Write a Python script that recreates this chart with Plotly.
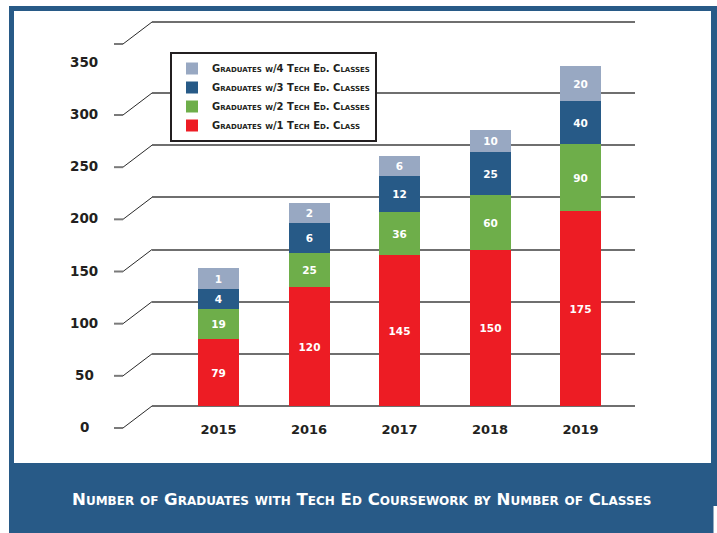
import plotly.graph_objects as go

# ---------------- data ----------------
years = [2015, 2016, 2017, 2018, 2019]
year_labels = ["2015", "2016", "2017", "2018", "2019"]

# printed segment values (labels in the chart)
grads_1_labels = [79, 120, 145, 150, 175]
grads_2_labels = [19, 25, 36, 60, 90]
grads_3_labels = [4, 6, 12, 25, 40]
grads_4_labels = [1, 2, 6, 10, 20]

# segment heights as drawn against the value axis
grads_1_drawn = [64, 114, 145, 150, 187]
grads_2_drawn = [29, 33, 41, 52, 64]
grads_3_drawn = [19, 28, 34, 41, 41]
grads_4_drawn = [20, 20, 20, 22, 34]

series_names = [
    "Graduates w/1 Tech Ed. Class",
    "Graduates w/2 Tech Ed. Classes",
    "Graduates w/3 Tech Ed. Classes",
    "Graduates w/4 Tech Ed. Classes",
]
y_tick_values = [0, 50, 100, 150, 200, 250, 300, 350]
y_tick_labels = ["0", "50", "100", "150", "200", "250", "300", "350"]
grid_values = [0, 50, 100, 150, 200, 250, 300]
title_text = "Number of Graduates with Tech Ed Coursework by Number of Classes"

# ---------------- styling ----------------
W, H = 717, 533
L, R, T, B = 152, 635, 22, 406
PX_PER_UNIT = 1.0433
Y_MAX = (B - T) / PX_PER_UNIT
FONT = "DejaVu Sans"
DARK = "#231f20"
NAVY = "#285a87"
colors = ["#ed1c24", "#6eae4a", "#275a87", "#98a8c2"]


def px(x):
    return (x - L) / (R - L)


def py(y):
    return (B - y) / (B - T)


fig = go.Figure()
drawn = [grads_1_drawn, grads_2_drawn, grads_3_drawn, grads_4_drawn]
labels = [grads_1_labels, grads_2_labels, grads_3_labels, grads_4_labels]
for name, h, lab, c in zip(series_names, drawn, labels, colors):
    fig.add_trace(go.Bar(
        x=years, y=h, name=name, marker=dict(color=c, line=dict(width=0)),
        text=[str(v) for v in lab], texttemplate="%{text}",
        textposition="inside", insidetextanchor="middle", textangle=0,
        textfont=dict(family=FONT, size=10.5, color="white", weight="bold"),
        width=0.453, hoverinfo="skip",
    ))

shapes = []
# frame
shapes.append(dict(type="rect", xref="paper", yref="paper", layer="below",
                   x0=px(9), x1=px(717), y0=py(533), y1=py(6),
                   fillcolor=NAVY, line=dict(width=0)))
shapes.append(dict(type="rect", xref="paper", yref="paper", layer="below",
                   x0=px(14), x1=px(711), y0=py(463), y1=py(11),
                   fillcolor="white", line=dict(width=0)))
shapes.append(dict(type="rect", xref="paper", yref="paper", layer="below",
                   x0=px(713.5), x1=px(718), y0=py(533), y1=py(506),
                   fillcolor="white", line=dict(width=0)))
# baseline and top back line
for yp in (0, 1):
    shapes.append(dict(type="line", xref="paper", yref="paper", layer="below",
                       x0=0, x1=1, y0=yp, y1=yp,
                       line=dict(color="#6f6f6f", width=2)))

# perspective connectors for each grid line
for yp in [v / Y_MAX for v in grid_values] + [1]:
    shapes.append(dict(type="line", xref="paper", yref="paper", layer="below",
                       xsizemode="pixel", ysizemode="pixel", xanchor=0, yanchor=yp,
                       x0=-38, x1=-29, y0=-22, y1=-22,
                       line=dict(color="#7a7a7a", width=2)))
    shapes.append(dict(type="line", xref="paper", yref="paper", layer="below",
                       xsizemode="pixel", ysizemode="pixel", xanchor=0, yanchor=yp,
                       x0=-29, x1=0, y0=-22, y1=0,
                       line=dict(color="#2a2a2a", width=1)))

annotations = []
for v, t in zip(y_tick_values, y_tick_labels):
    annotations.append(dict(x=px(84), y=v, xref="paper", yref="y", text=t,
                            showarrow=False, xanchor="center", yanchor="middle",
                            yshift=-21,
                            font=dict(family=FONT, size=13.5, color=DARK, weight="bold")))
annotations.append(dict(x=px(361), y=py(499), xref="paper", yref="paper",
                        text=title_text, showarrow=False, xanchor="center",
                        yanchor="middle",
                        font=dict(family=FONT, size=16.6, color="white", weight="bold",
                                  variant="small-caps")))

fig.update_layout(
    width=W, height=H,
    margin=dict(l=L, r=W - R, t=T, b=H - B, pad=0),
    paper_bgcolor="white", plot_bgcolor="rgba(0,0,0,0)",
    barmode="stack", bargap=0,
    showlegend=True,
    legend=dict(x=px(170), y=py(52), xanchor="left", yanchor="top",
                bgcolor="white", bordercolor=DARK, borderwidth=2,
                traceorder="reversed",
                font=dict(family=FONT, size=10, color=DARK, weight="bold",
                          variant="small-caps"),
                tracegroupgap=0),
    xaxis=dict(range=[2014.265, 2019.602], tickvals=years, ticktext=year_labels,
               showgrid=False, zeroline=False, showline=False, ticks="",
               ticklabelstandoff=14,
               tickfont=dict(family=FONT, size=13, color=DARK, weight="bold"),
               fixedrange=True),
    yaxis=dict(range=[0, Y_MAX], tickvals=grid_values,
               showticklabels=False, showgrid=True, gridcolor="#6f6f6f",
               gridwidth=2, zeroline=False, showline=False, ticks="",
               fixedrange=True),
    shapes=shapes, annotations=annotations,
)

fig.write_html("out.html", config={"displayModeBar": False},
               post_script="document.body.style.margin='0';")
